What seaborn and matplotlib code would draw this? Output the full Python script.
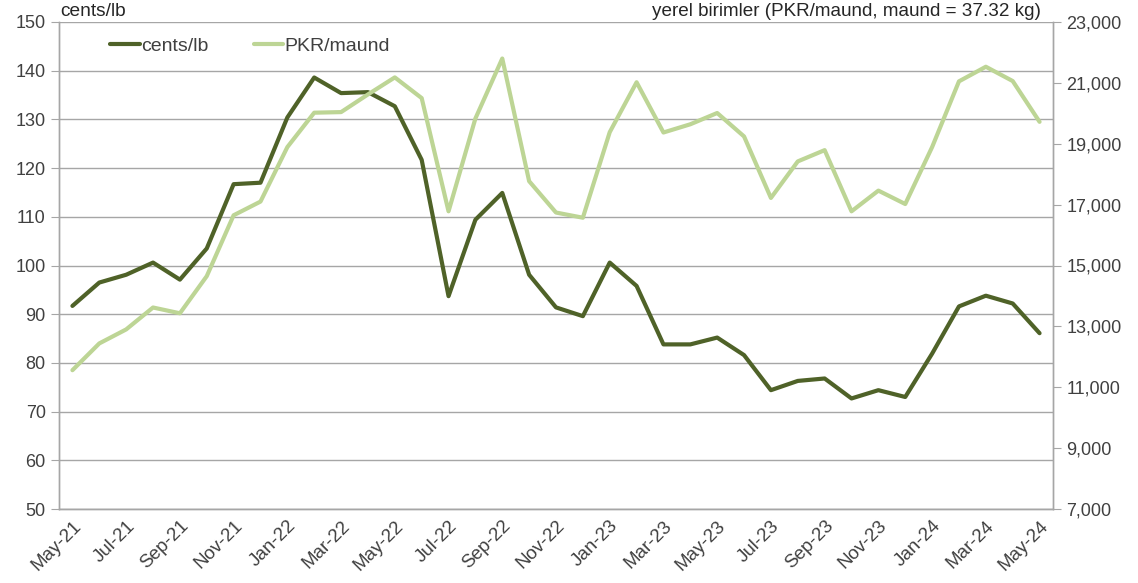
import numpy as np
import pandas as pd
import matplotlib
matplotlib.use('Agg')
import matplotlib.pyplot as plt
import matplotlib.ticker as mticker
import seaborn as sns

# monthly prices, May-21 .. May-24
months = pd.date_range('2021-05-01', periods=37, freq='MS')
month_labels = [m.strftime('%b-%y') for m in months]

cents_lb = [91.7, 96.5, 98.1, 100.6, 97.1, 103.5, 116.7, 117.0, 130.4, 138.6,
            135.4, 135.6, 132.7, 121.7, 93.7, 109.4, 114.9, 98.1, 91.4, 89.6,
            100.6, 95.8, 83.8, 83.8, 85.2, 81.6, 74.4, 76.3, 76.8, 72.7,
            74.4, 73.0, 81.9, 91.6, 93.8, 92.2, 86.1]
pkr_maund = [11560, 12440, 12900, 13620, 13430, 14650, 16650, 17100, 18890, 20020,
             20040, 20620, 21180, 20500, 16780, 19830, 21800, 17770, 16740, 16570,
             19380, 21020, 19370, 19640, 20010, 19240, 17220, 18420, 18790, 16780,
             17460, 17020, 18890, 21050, 21530, 21060, 19720]

df = pd.DataFrame({'pos': np.arange(len(months)), 'cents': cents_lb, 'pkr': pkr_maund})

sns.set_style('white')
plt.rcParams['font.family'] = ['Liberation Sans', 'DejaVu Sans']

dark = '#4F6228'
light = '#BDD595'
grid_c = '#A6A6A6'
txt_c = '#404040'

fig = plt.figure(figsize=(11.38, 5.83), dpi=100)
ax = fig.add_axes([59 / 1138, 1 - 509 / 583, (1053 - 59) / 1138, (509 - 22) / 583])
ax2 = ax.twinx()

sns.lineplot(data=df, x='pos', y='cents', ax=ax, color=dark, linewidth=3, label='cents/lb', legend=False)
sns.lineplot(data=df, x='pos', y='pkr', ax=ax2, color=light, linewidth=3, label='PKR/maund', legend=False)

ax.set_xlim(-0.5, len(months) - 0.5)
ax.set_ylim(50, 150)
ax.set_yticks(np.arange(50, 151, 10))
ax2.set_ylim(7000, 23000)
ax2.set_yticks(np.arange(7000, 23001, 2000))
ax2.yaxis.set_major_formatter(mticker.StrMethodFormatter('{x:,.0f}'))

ax.yaxis.grid(True, color=grid_c, linewidth=1)
ax.set_axisbelow(True)

# labels every second month, tick marks on the category boundaries
ax.set_xticks(np.arange(0, len(months), 2))
ax.set_xticklabels(month_labels[::2], rotation=45, ha='right', rotation_mode='anchor',
                   fontsize=13.5, color=txt_c)
ax.set_xticks(np.arange(-0.5, len(months), 2), minor=True)
ax.tick_params(axis='x', which='major', length=0, pad=6)
ax.tick_params(axis='x', which='minor', length=4, color=grid_c, direction='out')
ax.tick_params(axis='y', length=6, color=grid_c, labelsize=13, labelcolor=txt_c, direction='out')
ax2.tick_params(axis='y', length=6, color=grid_c, labelsize=13, labelcolor=txt_c, direction='out')

for a in (ax, ax2):
    a.set_xlabel('')
    a.set_ylabel('')
    for s in a.spines.values():
        s.set_color(grid_c)
        s.set_linewidth(1)
    a.spines['top'].set_visible(False)

h1, l1 = ax.get_legend_handles_labels()
h2, l2 = ax2.get_legend_handles_labels()
ax2.legend(h1 + h2, l1 + l2, loc='center left', bbox_to_anchor=(93 / 1138, 1 - 46 / 583),
           bbox_transform=fig.transFigure, ncol=2, frameon=False, fontsize=14,
           handlelength=1.5, handletextpad=0.1, columnspacing=2.3, labelcolor=txt_c)

fig.text(60 / 1138, 1 - 12 / 583, 'cents/lb', fontsize=13.8, va='center', ha='left')
fig.text(1041 / 1138, 1 - 12 / 583, 'yerel birimler (PKR/maund, maund = 37.32 kg)',
         fontsize=13.6, va='center', ha='right')

fig.savefig('out.png', dpi=100)
